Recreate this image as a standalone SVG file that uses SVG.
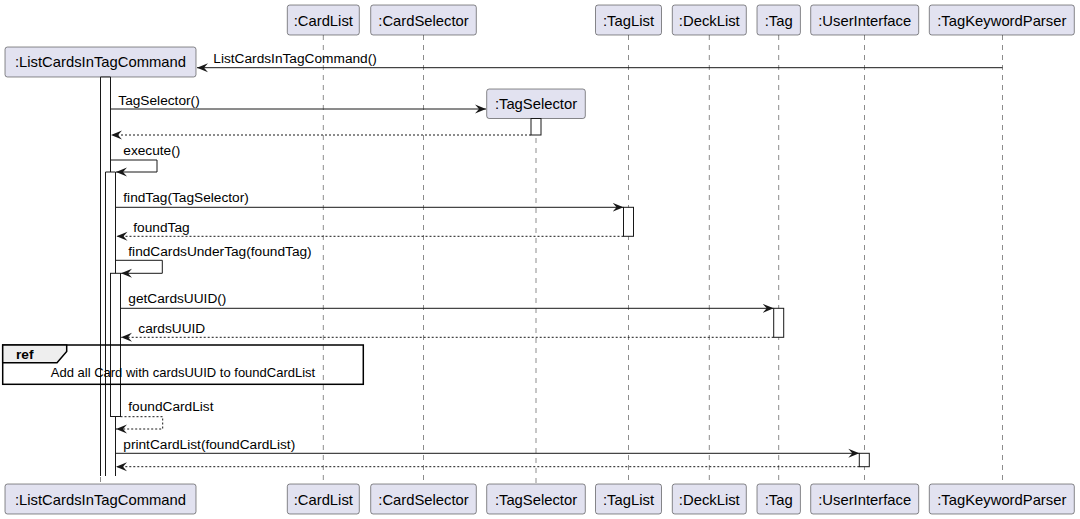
<svg xmlns="http://www.w3.org/2000/svg" width="1080" height="519" viewBox="0 0 1080 519">
<defs>
<style>
.p{fill:#E2E2F0;stroke:#181818;stroke-width:0.5}
.pt{font-family:"Liberation Sans",Arial,sans-serif;font-size:14.8px;fill:#000;text-anchor:middle}
.lf{stroke:#181818;stroke-width:0.5;stroke-dasharray:5 5;fill:none}
.act{fill:#fff;stroke:#181818;stroke-width:1}
.m{stroke:#181818;stroke-width:1;fill:none;marker-end:url(#ah)}
.r{stroke:#181818;stroke-width:1;fill:none;stroke-dasharray:2 2;marker-end:url(#ah)}
.mt{font-family:"Liberation Sans",Arial,sans-serif;font-size:13.7px;fill:#000}
.fr{fill:none;stroke:#000;stroke-width:1.5}
</style>
<marker id="ah" markerWidth="12" markerHeight="10" refX="11" refY="4.5" orient="auto" markerUnits="userSpaceOnUse" viewBox="0 0 12 9">
<path d="M0,0 L11,4.5 L0,9 L4,4.5 Z" fill="#181818"/>
</marker>
</defs>
<rect width="1080" height="519" fill="#fff"/>

<g id="lifelines">
<line class="lf" x1="100.5" y1="77" x2="100.5" y2="484"/>
<line class="lf" x1="323.3" y1="35" x2="323.3" y2="484"/>
<line class="lf" x1="423.5" y1="35" x2="423.5" y2="484"/>
<line class="lf" x1="536" y1="118" x2="536" y2="484"/>
<line class="lf" x1="628.5" y1="35" x2="628.5" y2="484"/>
<line class="lf" x1="709.3" y1="35" x2="709.3" y2="484"/>
<line class="lf" x1="778.7" y1="35" x2="778.7" y2="484"/>
<line class="lf" x1="864.5" y1="35" x2="864.5" y2="484"/>
<line class="lf" x1="1002.5" y1="35" x2="1002.5" y2="484"/>
</g>

<g id="ListCardsInTagCommand">
<rect class="p" x="5" y="47" width="191" height="30" rx="2.5"/>
<text class="pt" x="100.5" y="67">:ListCardsInTagCommand</text>
<rect class="p" x="5" y="484" width="191" height="30" rx="2.5"/>
<text class="pt" x="100.5" y="504.5">:ListCardsInTagCommand</text>
</g>
<g id="CardList">
<rect class="p" x="287.3" y="5" width="72" height="30" rx="2.5"/>
<text class="pt" x="323.3" y="25.5">:CardList</text>
<rect class="p" x="287.3" y="484" width="72" height="30" rx="2.5"/>
<text class="pt" x="323.3" y="504.5">:CardList</text>
</g>
<g id="CardSelector">
<rect class="p" x="370.7" y="5" width="105.6" height="30" rx="2.5"/>
<text class="pt" x="423.5" y="25.5">:CardSelector</text>
<rect class="p" x="370.7" y="484" width="105.6" height="30" rx="2.5"/>
<text class="pt" x="423.5" y="504.5">:CardSelector</text>
</g>
<g id="TagSelector">
<rect class="p" x="486.7" y="89" width="98.6" height="29.5" rx="2.5"/>
<text class="pt" x="536" y="109">:TagSelector</text>
<rect class="p" x="486.7" y="484" width="98.6" height="30" rx="2.5"/>
<text class="pt" x="536" y="504.5">:TagSelector</text>
</g>
<g id="TagList">
<rect class="p" x="595.5" y="5" width="66" height="30" rx="2.5"/>
<text class="pt" x="628.5" y="25.5">:TagList</text>
<rect class="p" x="595.5" y="484" width="66" height="30" rx="2.5"/>
<text class="pt" x="628.5" y="504.5">:TagList</text>
</g>
<g id="DeckList">
<rect class="p" x="672.3" y="5" width="74" height="30" rx="2.5"/>
<text class="pt" x="709.3" y="25.5">:DeckList</text>
<rect class="p" x="672.3" y="484" width="74" height="30" rx="2.5"/>
<text class="pt" x="709.3" y="504.5">:DeckList</text>
</g>
<g id="Tag">
<rect class="p" x="757" y="5" width="43.4" height="30" rx="2.5"/>
<text class="pt" x="778.7" y="25.5">:Tag</text>
<rect class="p" x="757" y="484" width="43.4" height="30" rx="2.5"/>
<text class="pt" x="778.7" y="504.5">:Tag</text>
</g>
<g id="UserInterface">
<rect class="p" x="810.7" y="5" width="108" height="30" rx="2.5"/>
<text class="pt" x="864.7" y="25.5">:UserInterface</text>
<rect class="p" x="810.7" y="484" width="108" height="30" rx="2.5"/>
<text class="pt" x="864.7" y="504.5">:UserInterface</text>
</g>
<g id="TagKeywordParser">
<rect class="p" x="929.3" y="5" width="145" height="30" rx="2.5"/>
<text class="pt" x="1001.8" y="25.5">:TagKeywordParser</text>
<rect class="p" x="929.3" y="484" width="145" height="30" rx="2.5"/>
<text class="pt" x="1001.8" y="504.5">:TagKeywordParser</text>
</g>

<g id="activations">
<path class="act" d="M100.5,476 V77 H110.5 V476"/>
<rect class="act" x="531" y="118.5" width="10" height="16.5"/>
<path class="act" d="M105.5,476 V172 H115.5 V476"/>
<rect class="act" x="623.5" y="207.3" width="10" height="29"/>
<rect class="act" x="110.5" y="273.3" width="10" height="143.2"/>
<rect class="act" x="773.7" y="308.3" width="10" height="29"/>
<rect class="act" x="859.3" y="453.3" width="10" height="13.4"/>
</g>

<g id="connectors">
<line class="m" x1="1002.5" y1="67.7" x2="197" y2="67.7"/>
<text class="mt" x="213.3" y="63">ListCardsInTagCommand()</text>
<line class="m" x1="110.5" y1="109" x2="486" y2="109"/>
<text class="mt" x="118.3" y="104.5">TagSelector()</text>
<line class="r" x1="531" y1="135" x2="111" y2="135"/>
<polyline class="m" points="110.5,160 157,160 157,172 116,172"/>
<text class="mt" x="123.3" y="155">execute()</text>
<line class="m" x1="115.5" y1="207.3" x2="623.5" y2="207.3"/>
<text class="mt" x="123.3" y="202">findTag(TagSelector)</text>
<line class="r" x1="623.5" y1="236.3" x2="116.5" y2="236.3"/>
<text class="mt" x="133.3" y="231.5">foundTag</text>
<polyline class="m" points="115.5,260.3 162.3,260.3 162.3,273.3 121,273.3"/>
<text class="mt" x="128.3" y="256">findCardsUnderTag(foundTag)</text>
<line class="m" x1="120.5" y1="308.3" x2="773.7" y2="308.3"/>
<text class="mt" x="128.3" y="303">getCardsUUID()</text>
<line class="r" x1="773.7" y1="337.3" x2="121" y2="337.3"/>
<text class="mt" x="138.3" y="332.5">cardsUUID</text>
<polyline class="r" points="120.5,416.7 162.7,416.7 162.7,429 116,429"/>
<text class="mt" x="128.3" y="410.5">foundCardList</text>
<line class="m" x1="115.5" y1="453.3" x2="859.3" y2="453.3"/>
<text class="mt" x="123.3" y="448.5">printCardList(foundCardList)</text>
<line class="r" x1="859.3" y1="466.7" x2="116" y2="466.7"/>
</g>

<g id="ref">
<rect class="fr" x="2.7" y="345" width="360.6" height="39.3"/>
<polygon points="2.7,345 66.7,345 66.7,351.5 57,362.7 2.7,362.7" fill="#EEEEEE" stroke="#000" stroke-width="1.5"/>
<text class="mt" x="16" y="358.5" font-weight="bold">ref</text>
<text class="mt" x="183" y="376.7" text-anchor="middle" style="font-size:13px">Add all Card with cardsUUID to foundCardList</text>
</g>
</svg>
